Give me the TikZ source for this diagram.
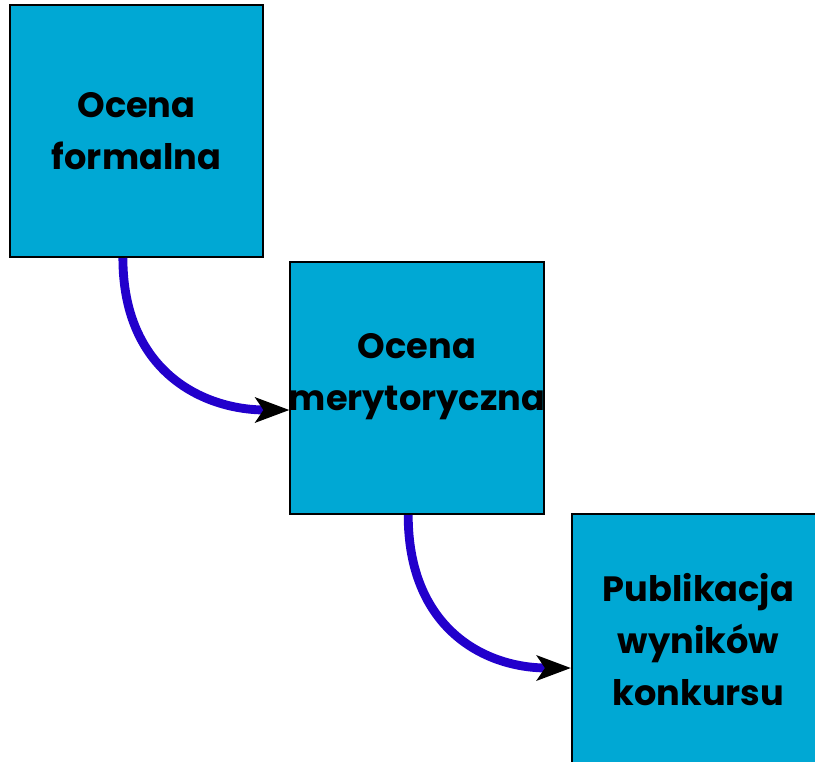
\documentclass[tikz,border=0pt]{standalone}
\usepackage{fontspec}
\usepackage{tikz}
\usetikzlibrary{arrows.meta}
\newfontfamily\boxfont{Poppins}
\definecolor{boxblue}{RGB}{0,168,212}
\definecolor{arrowblue}{RGB}{34,0,204}

\begin{document}
\begin{tikzpicture}[x=0.025cm,y=-0.025cm,
	etap/.style={draw=black,line width=1.4pt,fill=boxblue,minimum width=6.325cm,minimum height=6.3cm,
		align=center,font=\boxfont\bfseries\fontsize{25}{37}\selectfont,inner sep=0pt},
	etykieta/.style={align=center,font=\boxfont\bfseries\fontsize{25}{37}\selectfont,inner sep=0pt},
	strzalka/.style={arrowblue,line width=6.3pt,-{Stealth[black,length=0.85cm,width=0.62cm,inset=0.2cm]}}]
\useasboundingbox (0,0) rectangle (815,762);
\clip (0,0) rectangle (815,762);
\fill[white] (0,0) rectangle (815,762);

\node[etap] (formalna) at (136.5,131) {Ocena\\formalna};
\node[etap,label={[etykieta,yshift=0.28cm]center:Ocena\\merytoryczna}] (merytoryczna) at (417,388) {};
\node[etap] (publikacja) at (698.5,640) {Publikacja\\wyników\\konkursu};

\draw[strzalka] ([xshift=-0.34cm]formalna.south) .. controls +(0,-2.8cm) and +(-2.2cm,0) .. ([yshift=-0.55cm]merytoryczna.west);
\draw[strzalka] ([xshift=-0.22cm]merytoryczna.south) .. controls +(0,-2.8cm) and +(-2.2cm,0) .. ([yshift=-0.7cm]publikacja.west);
\end{tikzpicture}
\end{document}
